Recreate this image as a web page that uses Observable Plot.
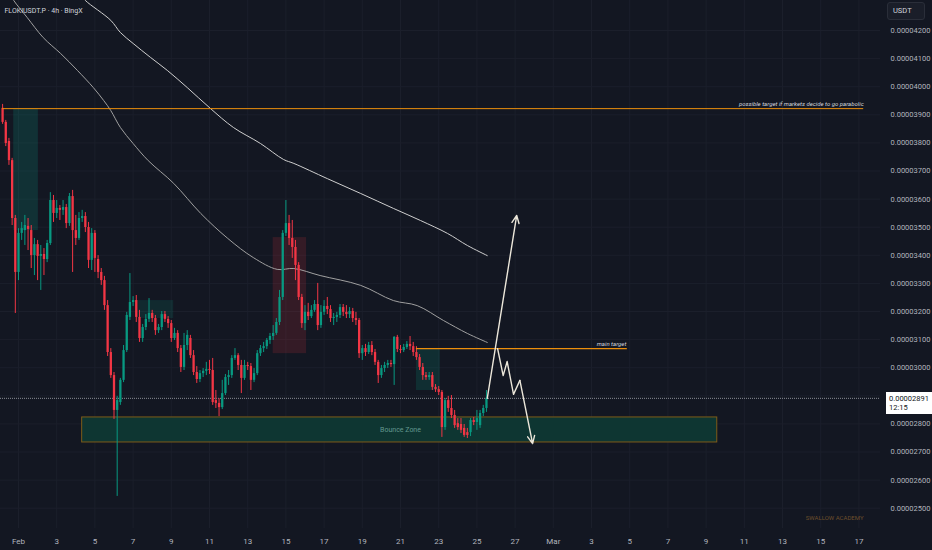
<!DOCTYPE html>
<html><head><meta charset="utf-8">
<script src="https://cdn.jsdelivr.net/npm/d3@7"></script>
<script src="https://cdn.jsdelivr.net/npm/@observablehq/plot@0.6"></script>
<style>
html,body{margin:0;padding:0;background:#131722;}
#wrap{position:relative;width:932px;height:550px;overflow:hidden;font-family:Roboto,"Liberation Sans",sans-serif;}
.usdt{position:absolute;left:887px;top:2px;width:38px;height:18px;background:#1a1e29;border:1px solid #2a2e39;border-radius:3px;color:#d1d4dc;font-size:7.5px;line-height:16px;padding-left:5px;box-sizing:border-box;}
.last{position:absolute;left:886px;width:46px;height:22px;background:#ffffff;color:#131722;font-size:7.5px;line-height:9px;padding:2px 0 0 3px;box-sizing:border-box;}
</style></head><body><div id="wrap"></div>
<script>
// ---- data (prices in units of 1e-8 USDT) ----
const symbolTitle = "FLOKIUSDT.P · 4h · BingX";
const candleStart = "2025-01-31T04:00Z"; // 4h candles
const open  = [3923,3873,3805,3737,3531,3339,3478,3488,3503,3488,3399,3438,3396,3403,3385,3442,3595,3549,3567,3560,3570,3513,3609,3488,3460,3531,3538,3499,3382,3478,3385,3339,3310,3221,3054,2972,2848,2876,2955,3061,3179,3232,3239,3179,3104,3143,3172,3193,3175,3132,3143,3189,3172,3157,3104,3122,3068,3001,3079,3104,3043,2983,2958,2979,2987,2994,2990,2883,2873,2858,2908,2965,2972,3033,3043,3008,2962,3008,3004,2955,2979,3050,3068,3075,3097,3111,3122,3161,3250,3478,3513,3460,3428,3364,3250,3157,3197,3182,3204,3225,3150,3197,3218,3207,3175,3179,3186,3214,3197,3189,3200,3175,3168,3050,3068,3054,3079,3054,3019,2972,2997,3008,3015,3011,3108,3065,3061,3072,3083,3075,3054,3036,3001,2972,2965,2972,2930,2922,2912,2787,2883,2855,2830,2801,2798,2784,2769,2769,2812,2805,2794,2837,2855];
const high  = [3937,3880,3816,3745,3542,3495,3517,3542,3531,3506,3460,3453,3435,3424,3453,3623,3613,3595,3577,3595,3581,3620,3631,3542,3552,3560,3552,3517,3495,3488,3399,3353,3325,3239,3068,2983,2898,2962,3079,3197,3335,3253,3257,3204,3154,3189,3246,3204,3186,3154,3200,3200,3182,3168,3140,3132,3079,3122,3132,3115,3061,3004,2990,2997,3019,3026,3033,2919,2890,2955,2976,2990,3043,3068,3050,3026,3026,3019,3015,2997,3061,3079,3090,3104,3122,3150,3175,3275,3488,3595,3542,3524,3453,3374,3261,3221,3229,3221,3239,3300,3221,3239,3250,3221,3193,3197,3225,3225,3221,3214,3211,3197,3175,3079,3083,3090,3093,3065,3026,3008,3019,3026,3026,3111,3115,3079,3083,3093,3111,3090,3075,3047,3015,2983,2983,2983,2940,2933,2919,2890,2898,2901,2848,2819,2819,2798,2784,2819,2823,2848,2848,2866,2919];
const low   = [3866,3787,3720,3506,3193,3310,3453,3435,3417,3353,3328,3310,3275,3328,3374,3435,3517,3531,3524,3542,3495,3503,3339,3435,3453,3517,3481,3353,3346,3339,3317,3293,3204,3040,2962,2816,2542,2866,2947,3054,3168,3218,3161,3090,3090,3132,3161,3161,3115,3122,3132,3161,3140,3090,3097,3054,2983,2990,3061,3033,2972,2944,2947,2965,2972,2976,2866,2855,2826,2851,2901,2937,2962,3026,2990,2908,2955,2990,2919,2947,2972,3040,3054,3065,3083,3097,3115,3150,3239,3467,3435,3389,3310,3239,3140,3132,3168,3175,3197,3132,3140,3186,3189,3161,3150,3161,3175,3182,3175,3175,3161,3150,3033,3026,3040,3047,3043,3008,2944,2962,2983,2997,3001,2937,3054,3050,3054,3065,3061,3040,3026,2990,2955,2955,2955,2919,2912,2901,2752,2777,2841,2819,2784,2777,2766,2752,2748,2755,2794,2777,2784,2826,2841];
const close = [3873,3798,3737,3531,3339,3478,3495,3506,3492,3399,3438,3396,3403,3385,3442,3595,3549,3567,3560,3570,3513,3609,3488,3460,3531,3538,3499,3382,3478,3389,3339,3310,3221,3054,2972,2848,2883,2955,3061,3186,3232,3239,3179,3104,3143,3172,3193,3175,3132,3143,3189,3172,3157,3104,3122,3068,3001,3079,3115,3043,2983,2958,2979,2987,2994,2990,2876,2873,2858,2908,2965,2972,3033,3043,3008,2962,3008,3004,2955,2979,3050,3068,3075,3097,3111,3122,3161,3250,3478,3513,3460,3428,3364,3250,3157,3197,3182,3204,3225,3150,3197,3218,3207,3175,3179,3186,3214,3197,3189,3200,3175,3168,3050,3068,3054,3079,3054,3019,2972,2997,3008,3015,3011,3108,3065,3061,3072,3083,3075,3054,3036,3001,2972,2965,2972,2930,2922,2912,2787,2883,2855,2830,2794,2787,2777,2759,2759,2812,2805,2819,2837,2855,2891];

// moving averages
const maSlowTime = ["2025-02-04T06:00Z","2025-02-04T12:00Z","2025-02-05T20:00Z","2025-02-06T08:00Z","2025-02-07T00:00Z","2025-02-07T22:00Z","2025-02-08T19:00Z","2025-02-09T20:00Z","2025-02-11T01:00Z","2025-02-12T06:00Z","2025-02-13T16:00Z","2025-02-14T21:00Z","2025-02-15T10:00Z","2025-02-17T04:00Z","2025-02-18T22:00Z","2025-02-20T15:00Z","2025-02-22T01:00Z","2025-02-23T11:00Z","2025-02-24T12:00Z","2025-02-25T13:00Z"];
const maSlowValue = [4328,4307,4236,4193,4154,4104,4058,3997,3923,3855,3798,3741,3727,3673,3620,3567,3524,3478,3435,3399];
const maFastTime = ["2025-01-31T14:00Z","2025-01-31T18:00Z","2025-02-01T11:00Z","2025-02-02T07:00Z","2025-02-03T05:00Z","2025-02-04T02:00Z","2025-02-04T22:00Z","2025-02-05T11:00Z","2025-02-05T20:00Z","2025-02-06T08:00Z","2025-02-07T00:00Z","2025-02-07T19:00Z","2025-02-09T03:00Z","2025-02-10T13:00Z","2025-02-11T23:00Z","2025-02-13T07:00Z","2025-02-14T13:00Z","2025-02-15T10:00Z","2025-02-16T19:00Z","2025-02-18T22:00Z","2025-02-20T15:00Z","2025-02-21T21:00Z","2025-02-23T06:00Z","2025-02-24T12:00Z","2025-02-25T13:00Z"];
const maFastValue = [4328,4307,4246,4175,4118,4058,3997,3951,3915,3855,3798,3737,3656,3549,3460,3392,3350,3353,3328,3293,3239,3221,3168,3122,3090];

// drawings
const parabolicLevel = 3922, parabolicStart = "2025-01-31T04:00Z", parabolicEnd = "2025-03-17T06:00Z";
const mainTargetLevel = 3068, mainTargetStart = "2025-02-21T20:00Z", mainTargetEnd = "2025-03-04T21:00Z";
const bounceTop = 2823, bounceBottom = 2734, bounceStart = "2025-02-04T08:00Z", bounceEnd = "2025-03-09T14:00Z", bounceLabelAt = "2025-02-21T00:00Z";
const lastPrice = 2891, lastTimer = "12:15";
const upArrow = {t1:"2025-02-25T13:00Z", p1:2891, t2:"2025-02-27T02:00Z", p2:3542};
const zigTime  = ["2025-02-26T02:00Z","2025-02-26T09:00Z","2025-02-26T14:00Z","2025-02-26T22:00Z","2025-02-27T06:00Z","2025-02-27T22:00Z"];
const zigPrice = [3068,2972,3022,2905,2955,2730];
const tealZones = [
  {t1:"2025-01-31T18:00Z", t2:"2025-02-02T01:00Z", p1:3922, p2:3488, o:0.2},
  {t1:"2025-02-07T07:00Z", t2:"2025-02-09T03:00Z", p1:3239, p2:3175, o:0.15},
  {t1:"2025-02-21T20:00Z", t2:"2025-02-23T02:00Z", p1:3068, p2:2919, o:0.18}
];
const redZones = [{t1:"2025-02-14T08:00Z", t2:"2025-02-16T02:00Z", p1:3463, p2:3050, o:0.15}];

const tickDates = ["2025-02-01","2025-02-03","2025-02-05","2025-02-07","2025-02-09","2025-02-11","2025-02-13","2025-02-15","2025-02-17","2025-02-19","2025-02-21","2025-02-23","2025-02-25","2025-02-27","2025-03-01","2025-03-03","2025-03-05","2025-03-07","2025-03-09","2025-03-11","2025-03-13","2025-03-15","2025-03-17"];
const tickLabels = ["Feb","3","5","7","9","11","13","15","17","19","21","23","25","27","Mar","3","5","7","9","11","13","15","17"];
const priceGrid = [2500,2600,2700,2800,2900,3000,3100,3200,3300,3400,3500,3600,3700,3800,3900,4000,4100,4200];
const priceLabels = [2500,2600,2700,2800,3000,3100,3200,3300,3400,3500,3600,3700,3800,3900,4000,4100,4200]; // 2900 hidden behind last-price tag

// ---- build ----
const D = s => new Date(s);
const H4 = 4*3600e3, DAY = 864e5;
const t0 = Date.parse(candleStart);
const candles = open.map((o,i)=>({t:new Date(t0+i*H4), o, h:high[i], l:low[i], c:close[i]}));
const up = "#089981", dn = "#f23645";
const col = d => d.c >= d.o ? up : dn;
const feb1 = Date.UTC(2025,1,1);
const xDomain = [new Date(feb1 - 0.9424*DAY), new Date(feb1 + 45.13*DAY)];
const ticks = tickDates.map(s=>new Date(s+"T00:00Z"));
const labelOf = new Map(ticks.map((d,i)=>[+d, tickLabels[i]]));
const maSlow = maSlowTime.map((s,i)=>({t:D(s), v:maSlowValue[i]}));
const maFast = maFastTime.map((s,i)=>({t:D(s), v:maFastValue[i]}));
const zig = zigTime.map((s,i)=>({t:D(s), v:zigPrice[i]}));
const zones = z => z.map(r=>({...r, t1:D(r.t1), t2:D(r.t2)}));
const orange = "#ec8f0c";
const cream = "#ece7da";

const chart = Plot.plot({
  width:932, height:550,
  marginLeft:0, marginRight:52, marginTop:0, marginBottom:22,
  style:{background:"#131722", fontFamily:"Roboto, 'Liberation Sans', sans-serif", overflow:"visible"},
  x:{type:"utc", domain:xDomain},
  y:{domain:[2427.8, 4306.8]},
  marks:[
    Plot.gridX(ticks,{stroke:"#1b1f2b", strokeOpacity:1}),
    Plot.gridY(priceGrid,{stroke:"#1b1f2b", strokeOpacity:1}),
    Plot.rect(zones(tealZones),{x1:"t1", x2:"t2", y1:"p1", y2:"p2", fill:up, fillOpacity:"o"}),
    Plot.rect(zones(redZones),{x1:"t1", x2:"t2", y1:"p1", y2:"p2", fill:dn, fillOpacity:"o"}),
    Plot.rect([{t1:D(bounceStart), t2:D(bounceEnd), p1:bounceTop, p2:bounceBottom}],{x1:"t1", x2:"t2", y1:"p1", y2:"p2", fill:"#0e3632", stroke:"#7e5c18", strokeWidth:1}),
    Plot.text([{t:D(bounceLabelAt), v:(bounceTop+bounceBottom)/2}],{x:"t", y:"v", text:()=>"Bounce Zone", fontSize:7, fill:"#62988f"}),
    Plot.line(maSlow,{x:"t", y:"v", stroke:"#cfcfcf", strokeWidth:1, curve:"catmull-rom", clip:true}),
    Plot.line(maFast,{x:"t", y:"v", stroke:"#a0a0a0", strokeWidth:1, curve:"catmull-rom", clip:true}),
    Plot.ruleY([lastPrice],{stroke:"#8a8d96", strokeWidth:1, strokeDasharray:"1,1"}),
    Plot.ruleX(candles,{x:"t", y1:"l", y2:"h", stroke:col, strokeWidth:1}),
    Plot.ruleX(candles,{x:"t", y1:"o", y2:"c", stroke:col, strokeWidth:2.3}),
    Plot.ruleY([{v:parabolicLevel, a:D(parabolicStart), b:D(parabolicEnd)}],{y:"v", x1:"a", x2:"b", stroke:orange, strokeWidth:1}),
    Plot.text([{v:parabolicLevel, b:D(parabolicEnd)}],{x:"b", y:"v", text:()=>"possible target if markets decide to go parabolic", textAnchor:"end", dy:-5, fontSize:6, fontStyle:"italic", fill:"#d1d4dc"}),
    Plot.ruleY([{v:mainTargetLevel, a:D(mainTargetStart), b:D(mainTargetEnd)}],{y:"v", x1:"a", x2:"b", stroke:orange, strokeWidth:1.2}),
    Plot.text([{v:mainTargetLevel, b:D(mainTargetEnd)}],{x:"b", y:"v", text:()=>"main target", textAnchor:"end", dx:-1, dy:-5, fontSize:6, fontStyle:"italic", fill:"#d1d4dc"}),
    Plot.arrow([{a:D(upArrow.t1), p:upArrow.p1, b:D(upArrow.t2), q:upArrow.p2}],{x1:"a", y1:"p", x2:"b", y2:"q", stroke:cream, strokeWidth:1.4, headLength:9, headAngle:50}),
    Plot.line(zig.slice(0,-1),{x:"t", y:"v", stroke:cream, strokeWidth:1.4}),
    Plot.arrow([{a:zig[zig.length-2].t, p:zig[zig.length-2].v, b:zig[zig.length-1].t, q:zig[zig.length-1].v}],{x1:"a", y1:"p", x2:"b", y2:"q", stroke:cream, strokeWidth:1.4, headLength:9, headAngle:50}),
    Plot.text([symbolTitle],{frameAnchor:"top-left", dx:4, dy:8, fontSize:7, fill:"#d1d4dc"}),
    Plot.text(["SWALLOW ACADEMY"],{frameAnchor:"bottom-right", dx:-17, dy:-9, textAnchor:"end", fontSize:6, fill:"#6e4f2c"}),
    Plot.axisX(ticks,{tickSize:0, tickPadding:10, tickFormat:d=>labelOf.get(+d), fontSize:8, fill:"#b2b5be"}),
    Plot.axisY(priceLabels,{anchor:"right", tickSize:0, tickPadding:10, tickFormat:v=>(v*1e-8).toFixed(8), fontSize:7.5, fill:"#b2b5be"})
  ]
});
const wrap = document.getElementById("wrap");
wrap.appendChild(chart);
const u = document.createElement("div"); u.className="usdt"; u.textContent="USDT"; wrap.appendChild(u);
const yl = chart.scale("y").apply(lastPrice);
const lb = document.createElement("div"); lb.className="last"; lb.style.top=(yl-6)+"px";
lb.innerHTML = (lastPrice*1e-8).toFixed(8)+"<br>"+lastTimer; wrap.appendChild(lb);
</script></body></html>
